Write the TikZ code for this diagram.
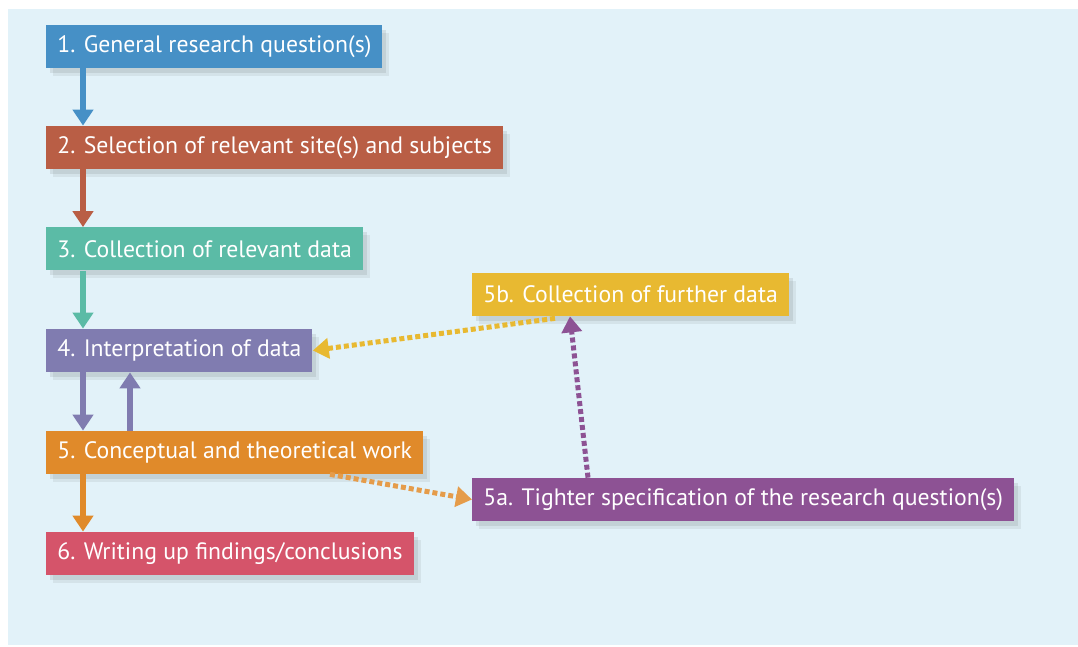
\documentclass[tikz,border=0pt]{standalone}
\usepackage{fontspec}
\setmainfont{PT Sans}
\usepackage{xcolor}
\usepackage{tikz}
\usetikzlibrary{positioning,arrows.meta,shadows}
\definecolor{cbg}{RGB}{226,242,249}
\definecolor{cblue}{RGB}{70,144,198}
\definecolor{cbrown}{RGB}{185,94,69}
\definecolor{cteal}{RGB}{91,187,166}
\definecolor{cviolet}{RGB}{128,124,176}
\definecolor{corange}{RGB}{224,138,42}
\definecolor{cpink}{RGB}{213,84,106}
\definecolor{cyellow}{RGB}{232,185,49}
\definecolor{cpurple}{RGB}{141,82,148}

\begin{document}
\begin{tikzpicture}[
    % Box styles
    stage/.style={anchor=west, minimum height=0.86cm, inner xsep=0.22cm,
                  text=white, font=\fontsize{13.5}{16}\selectfont,
                  drop shadow={shadow xshift=0.14cm, shadow yshift=-0.16cm,
                               opacity=0.08, fill=black!80},
                  drop shadow={shadow xshift=0.08cm, shadow yshift=-0.1cm,
                               opacity=0.1, fill=black!80}},
    % Arrow styles
    arrow/.style={-{Triangle[width=0.4cm, length=0.32cm]}, line width=0.12cm},
    dotarrow/.style={-{Triangle[width=0.4cm, length=0.32cm]}, line width=0.1cm,
                     dash pattern=on 0.1cm off 0.06cm},
  ]

  % Background
  \fill[white] (0,0) rectangle (21.56,-12.94);
  \fill[cbg] (0.16,-0.18) rectangle (21.56,-12.9);
  \useasboundingbox (0,0) rectangle (21.56,-12.94);

  % ===== LEFT: main sequence =====
  \node[stage, fill=cblue]   (q1) at (0.92, -0.93) {1. General research question(s)};
  \node[stage, fill=cbrown]  (q2) at (0.92, -2.95) {2. Selection of relevant site(s) and subjects};
  \node[stage, fill=cteal]   (q3) at (0.92, -4.98) {3. Collection of relevant data};
  \node[stage, fill=cviolet] (q4) at (0.92, -7.01) {4. Interpretation of data};
  \node[stage, fill=corange] (q5) at (0.92, -9.05) {5. Conceptual and theoretical work};
  \node[stage, fill=cpink]   (q6) at (0.92, -11.07) {6. Writing up findings/conclusions};

  % ===== RIGHT: loop back =====
  \node[stage, fill=cyellow] (q5b) at (9.44, -5.89) {5b. Collection of further data};
  \node[stage, fill=cpurple] (q5a) at (9.44, -9.99) {5a. Tighter specification of the research question(s)};

  % Arrows down the left column
  \draw[arrow, cblue]   ([xshift=0.74cm]q1.south west) -- ([xshift=0.74cm]q2.north west);
  \draw[arrow, cbrown]  ([xshift=0.74cm]q2.south west) -- ([xshift=0.74cm]q3.north west);
  \draw[arrow, cteal]   ([xshift=0.74cm]q3.south west) -- ([xshift=0.74cm]q4.north west);
  \draw[arrow, cviolet] ([xshift=0.74cm]q4.south west) -- ([xshift=0.74cm]q5.north west);
  \draw[arrow, cviolet] ([xshift=1.68cm]q5.north west) -- ([xshift=1.68cm]q4.south west);
  \draw[arrow, corange] ([xshift=0.74cm]q5.south west) -- ([xshift=0.74cm]q6.north west);

  % Dotted loop
  \draw[dotarrow, corange!85!white] ([xshift=5.68cm]q5.south west) -- (q5a.west);
  \draw[dotarrow, cpurple] ([xshift=2.32cm]q5a.north west) -- ([xshift=1.96cm]q5b.south west);
  \draw[dotarrow, cyellow] ([xshift=1.66cm, yshift=-0.04cm]q5b.south west) -- (q4.east);

\end{tikzpicture}
\end{document}
